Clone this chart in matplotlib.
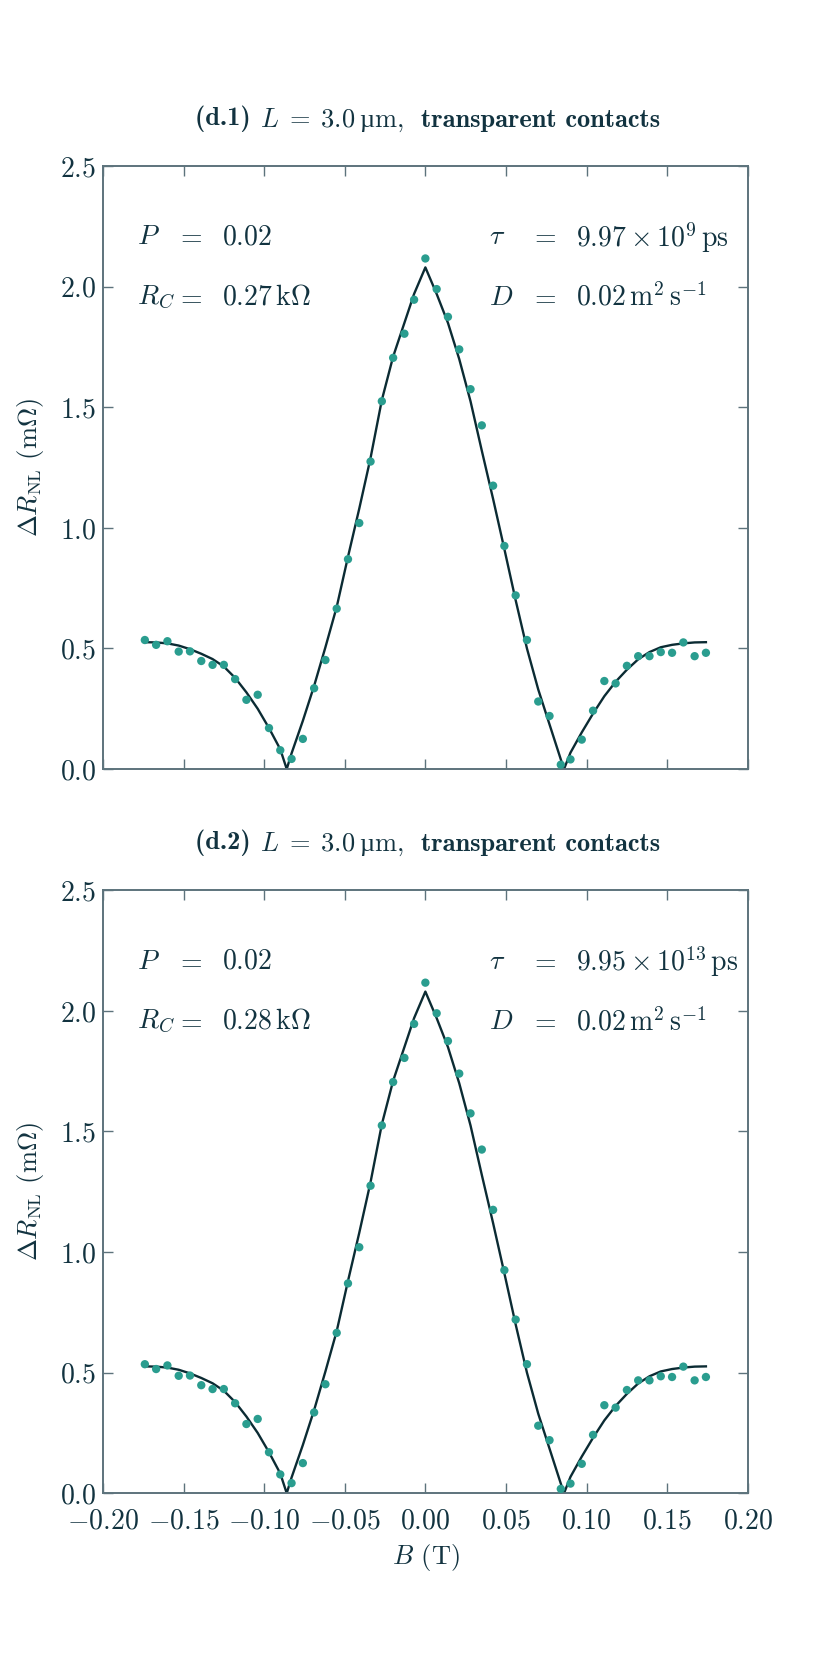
import matplotlib
matplotlib.use('Agg')
import matplotlib.pyplot as plt
import numpy as np

plt.rcParams['font.family'] = ['cmr10', 'DejaVu Serif']
plt.rcParams['mathtext.fontset'] = 'cm'
plt.rcParams['axes.formatter.use_mathtext'] = True
plt.rcParams['axes.unicode_minus'] = True

# measured points (B in tesla, dR_NL in mOhm)
b_data = [-0.174, -0.167, -0.160, -0.153, -0.146, -0.139, -0.132, -0.125, -0.118, -0.111,
          -0.104, -0.097, -0.090, -0.083, -0.076, -0.069, -0.062, -0.055, -0.048, -0.041,
          -0.034, -0.027, -0.020, -0.013, -0.007, 0.000, 0.007, 0.014, 0.021, 0.028,
          0.035, 0.042, 0.049, 0.056, 0.063, 0.070, 0.077, 0.084, 0.090, 0.097,
          0.104, 0.111, 0.118, 0.125, 0.132, 0.139, 0.146, 0.153, 0.160, 0.167, 0.174]
r_data = [0.535, 0.515, 0.530, 0.487, 0.488, 0.448, 0.432, 0.432, 0.373, 0.287,
          0.308, 0.170, 0.078, 0.042, 0.125, 0.335, 0.452, 0.665, 0.870, 1.020,
          1.275, 1.525, 1.705, 1.805, 1.946, 2.117, 1.990, 1.875, 1.740, 1.575,
          1.425, 1.175, 0.925, 0.720, 0.535, 0.280, 0.220, 0.018, 0.040, 0.122,
          0.242, 0.365, 0.355, 0.428, 0.468, 0.468, 0.485, 0.482, 0.525, 0.468, 0.482]

# fitted curve
b_fit = [-0.174, -0.167, -0.160, -0.153, -0.146, -0.139, -0.132, -0.125, -0.118, -0.111,
         -0.104, -0.097, -0.090, -0.086, -0.083, -0.076, -0.069, -0.062, -0.055, -0.048,
         -0.041, -0.034, -0.027, -0.020, -0.013, -0.007, 0.000, 0.007, 0.014, 0.021,
         0.028, 0.035, 0.042, 0.049, 0.056, 0.063, 0.070, 0.077, 0.084, 0.086,
         0.090, 0.097, 0.104, 0.111, 0.118, 0.125, 0.132, 0.139, 0.146, 0.153,
         0.160, 0.167, 0.174]
r_fit = [0.526, 0.525, 0.521, 0.512, 0.497, 0.478, 0.456, 0.425, 0.378, 0.318,
         0.250, 0.170, 0.082, 0.000, 0.065, 0.200, 0.345, 0.505, 0.672, 0.880,
         1.080, 1.290, 1.530, 1.710, 1.850, 1.970, 2.080, 1.970, 1.850, 1.700,
         1.525, 1.320, 1.120, 0.912, 0.700, 0.500, 0.330, 0.185, 0.040, 0.000,
         0.068, 0.152, 0.230, 0.302, 0.362, 0.412, 0.455, 0.485, 0.505, 0.515,
         0.521, 0.525, 0.526]

panel_labels = ['(d.1)', '(d.2)']
rc_values = [r'$0.27\,\mathrm{k\Omega}$', r'$0.28\,\mathrm{k\Omega}$']
tau_values = [r'$9.97 \times 10^{9}\,\mathrm{ps}$', r'$9.95 \times 10^{13}\,\mathrm{ps}$']

text_c = '#123340'
spine_c = '#5d737c'
line_c = '#0b2b33'
dot_c = '#2a9d8f'

fig = plt.figure(figsize=(8.3, 16.61), dpi=100)
boxes = [[0.124, 0.537, 0.777, 0.363], [0.124, 0.101, 0.777, 0.363]]

for i in range(2):
    ax = fig.add_axes(boxes[i])
    ax.plot(b_fit, r_fit, color=line_c, lw=1.7, zorder=2)
    ax.scatter(b_data, r_data, s=36, color=dot_c, edgecolors='none', zorder=3)
    ax.set_xlim(-0.2, 0.2)
    ax.set_ylim(0, 2.5)
    ax.set_xticks(np.arange(-0.2, 0.201, 0.05))
    ax.set_yticks(np.arange(0, 2.51, 0.5))
    ax.tick_params(direction='in', length=7, width=1, color=spine_c,
                   top=True, right=True, labelsize=20, labelcolor=text_c, pad=5)
    ax.tick_params(axis='x', pad=11)
    for s in ax.spines.values():
        s.set_color(spine_c)
        s.set_linewidth(1.4)
    if i == 0:
        ax.tick_params(labelbottom=False)
    else:
        ax.set_xlabel(r'$B$ (T)', fontsize=19, color=text_c, labelpad=5)
    ax.set_ylabel(r'$\Delta R_{\mathrm{NL}}$ (m$\Omega$)', fontsize=19, color=text_c, labelpad=10)

    # title built from bold and regular pieces
    t1 = ax.text(0.143, 1.057, panel_labels[i] + ' ', transform=ax.transAxes,
                 fontsize=19, color=text_c, family='cmb10', va='bottom', ha='left')
    t2 = ax.annotate(r'$L \;=\; 3.0$', xy=(1, 0), xycoords=t1, va='bottom', ha='left',
                     fontsize=19, color=text_c)
    t3 = ax.annotate('µ', xy=(1, 0), xycoords=t2, xytext=(3.5, 0), textcoords='offset points',
                     va='bottom', ha='left', fontsize=19, color=text_c, family='Liberation Serif')
    t4 = ax.annotate('m,  ', xy=(1, 0), xycoords=t3, va='bottom', ha='left',
                     fontsize=19, color=text_c)
    ax.annotate('transparent contacts', xy=(1, 0), xycoords=t4, va='bottom', ha='left',
                fontsize=19, color=text_c, family='cmb10')

    fs = 20
    ax.text(0.053, 0.882, r'$P$', transform=ax.transAxes, fontsize=fs, color=text_c, va='center')
    ax.text(0.114, 0.882, r'$=$', transform=ax.transAxes, fontsize=fs, color=text_c, va='center')
    ax.text(0.185, 0.882, r'$0.02$', transform=ax.transAxes, fontsize=fs, color=text_c, va='center')
    ax.text(0.053, 0.782, r'$R_C$', transform=ax.transAxes, fontsize=fs, color=text_c, va='center')
    ax.text(0.114, 0.782, r'$=$', transform=ax.transAxes, fontsize=fs, color=text_c, va='center')
    ax.text(0.185, 0.782, rc_values[i], transform=ax.transAxes, fontsize=fs, color=text_c, va='center')
    ax.text(0.598, 0.882, r'$\tau$', transform=ax.transAxes, fontsize=fs, color=text_c, va='center')
    ax.text(0.663, 0.882, r'$=$', transform=ax.transAxes, fontsize=fs, color=text_c, va='center')
    ax.text(0.733, 0.882, tau_values[i], transform=ax.transAxes, fontsize=fs, color=text_c, va='center')
    ax.text(0.598, 0.782, r'$D$', transform=ax.transAxes, fontsize=fs, color=text_c, va='center')
    ax.text(0.663, 0.782, r'$=$', transform=ax.transAxes, fontsize=fs, color=text_c, va='center')
    ax.text(0.733, 0.782, r'$0.02\,\mathrm{m^2\,s^{-1}}$', transform=ax.transAxes, fontsize=fs, color=text_c, va='center')

fig.savefig('out.png', dpi=100)
